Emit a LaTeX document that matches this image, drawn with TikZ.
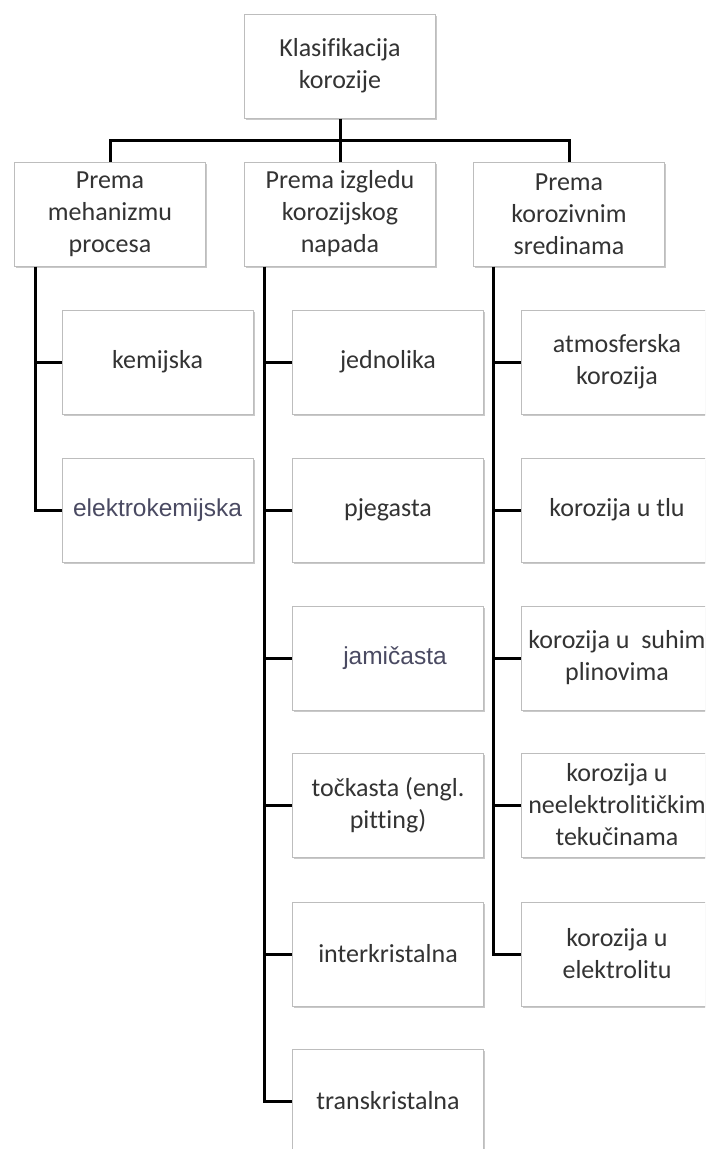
\documentclass[tikz,border=0pt]{standalone}
\usepackage{fontspec}
\setmainfont[Ligatures={NoCommon}]{Carlito}
\newfontfamily\arialf{Liberation Sans}
\usetikzlibrary{shadows}
\definecolor{txt}{HTML}{333333}
\definecolor{txtb}{HTML}{4A4A62}
\definecolor{bord}{HTML}{BDBDBD}
\begin{document}
\begin{tikzpicture}[x=1pt,y=-1pt,
  box/.style={draw=bord, line width=1pt, fill=white, minimum width=191pt, minimum height=104pt,
    inner sep=0pt, align=center, text=txt, font=\fontsize{26}{32}\selectfont,
    drop shadow={shadow xshift=1.5pt, shadow yshift=-2pt, opacity=0.35, fill=black!60}},
  abox/.style={box, font=\arialf\fontsize{24.5}{30}\selectfont, text=txtb},
  conn/.style={line width=3pt, black, line join=miter}]
\clip (0,0) rectangle (705,1149);
\fill[white] (0,0) rectangle (705,1149);
% top
\node[box] (top) at (340,66) {Klasifikacija\\korozije};
\node[box] (b1) at (110,214) {Prema\\mehanizmu\\procesa};
\node[box] (b2) at (340,214) {Prema izgledu\\korozijskog\\napada};
\node[box] (b3) at (569,214) {Prema\\korozivnim\\sredinama};
% left column
\node[box] (l1) at (157.5,362) {kemijska};
\node[abox] (l2) at (157.5,510) {elektrokemijska};
% middle column
\node[box] (m1) at (388,362) {jednolika};
\node[box] (m2) at (388,510) {pjegasta};
\node[abox] (m3) at (388,658) {\hspace*{14pt}jamičasta};
\node[box] (m4) at (388,805) {točkasta (engl.\\pitting)};
\node[box] (m5) at (388,954) {interkristalna};
\node[box] (m6) at (388,1101) {transkristalna};
% right column
\node[box] (r1) at (617,362) {atmosferska\\korozija};
\node[box] (r2) at (617,510) {korozija u tlu};
\node[box] (r3) at (617,658) {korozija u\ \ suhim\\plinovima};
\node[box] (r4) at (617,805) {korozija u\\neelektrolitičkim\\tekučinama};
\node[box] (r5) at (617,954) {korozija u\\elektrolitu};
% connectors
\coordinate (bar) at (340,140);
\draw[conn] (top.south) -- (b2.north);
\draw[conn] (b1.north) |- (bar) -| (b3.north);
\coordinate (lv) at ([xshift=21pt]b1.south west);
\coordinate (mv) at ([xshift=20pt]b2.south west);
\coordinate (rv) at ([xshift=20pt]b3.south west);
\draw[conn] (lv) |- (l2.west);
\draw[conn] (lv |- l1.west) -- (l1.west);
\draw[conn] (mv) |- (m6.west);
\foreach \n in {m1,m2,m3,m4,m5} \draw[conn] (mv |- \n.west) -- (\n.west);
\draw[conn] (rv) |- (r5.west);
\foreach \n in {r1,r2,r3,r4} \draw[conn] (rv |- \n.west) -- (\n.west);
\end{tikzpicture}
\end{document}
